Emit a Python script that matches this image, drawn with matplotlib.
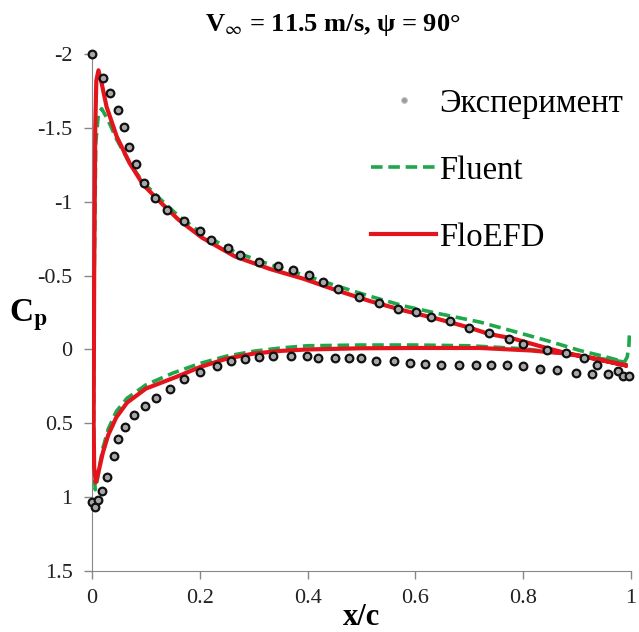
import matplotlib
matplotlib.use("Agg")
import matplotlib.pyplot as plt
import numpy as np

plt.rcParams["font.family"] = ["Liberation Serif", "DejaVu Serif"]
plt.rcParams["mathtext.fontset"] = "stix"
plt.rcParams["axes.unicode_minus"] = False

# Experiment, upper surface (x/c, Cp)
exp_up_x = [0.000, 0.020, 0.033, 0.049, 0.060, 0.069, 0.081, 0.096, 0.116, 0.139, 0.171,
            0.200, 0.221, 0.252, 0.275, 0.309, 0.345, 0.372, 0.403, 0.429, 0.457, 0.496,
            0.533, 0.568, 0.601, 0.629, 0.664, 0.700, 0.736, 0.774, 0.799, 0.844, 0.879,
            0.913, 0.937, 0.976, 0.986, 0.997]
exp_up_cp = [-2.00, -1.835, -1.733, -1.62, -1.507, -1.372, -1.254, -1.129, -1.028, -0.947, -0.871,
             -0.80, -0.744, -0.687, -0.637, -0.592, -0.563, -0.536, -0.502, -0.456, -0.412, -0.355,
             -0.314, -0.276, -0.253, -0.219, -0.192, -0.147, -0.111, -0.068, -0.039, 0.002, 0.022,
             0.056, 0.104, 0.149, 0.183, 0.183]

# Experiment, lower surface
exp_lo_x = [0.000, 0.006, 0.012, 0.018, 0.027, 0.040, 0.049, 0.061, 0.078, 0.098, 0.119,
            0.145, 0.171, 0.200, 0.231, 0.258, 0.284, 0.310, 0.335, 0.369, 0.398, 0.420,
            0.451, 0.477, 0.499, 0.527, 0.560, 0.590, 0.617, 0.648, 0.680, 0.712, 0.740,
            0.769, 0.799, 0.831, 0.863, 0.898, 0.928, 0.958]
exp_lo_cp = [1.035, 1.069, 1.019, 0.961, 0.861, 0.723, 0.605, 0.527, 0.447, 0.384, 0.327,
             0.266, 0.203, 0.154, 0.115, 0.081, 0.068, 0.051, 0.047, 0.047, 0.047, 0.056,
             0.056, 0.056, 0.056, 0.075, 0.081, 0.093, 0.097, 0.104, 0.104, 0.104, 0.102,
             0.102, 0.113, 0.131, 0.136, 0.158, 0.165, 0.165]

# Fluent: from trailing edge hook, along upper surface, around nose, along lower surface
fluent_x = [0.997, 0.996, 0.993, 0.988, 0.955, 0.905, 0.843, 0.781, 0.720, 0.700, 0.640,
            0.578, 0.516, 0.454, 0.392, 0.330, 0.265, 0.204, 0.160, 0.126, 0.095, 0.070,
            0.046, 0.030, 0.018, 0.012, 0.007, 0.004, 0.003, 0.004, 0.006,
            0.010, 0.015, 0.020, 0.030, 0.045, 0.065, 0.100, 0.150, 0.200, 0.250, 0.300,
            0.350, 0.400, 0.500, 0.600, 0.700, 0.800, 0.880, 0.940, 0.988]
fluent_cp = [-0.095, -0.02, 0.05, 0.085, 0.052, 0.007, -0.061, -0.124, -0.185, -0.20, -0.245,
             -0.295, -0.36, -0.43, -0.505, -0.575, -0.66, -0.785, -0.905, -1.02, -1.13, -1.26,
             -1.42, -1.55, -1.63, -1.60, -1.40, -0.50, 0.50, 0.85, 0.95,
             0.88, 0.77, 0.67, 0.54, 0.42, 0.33, 0.24, 0.16, 0.095, 0.045, 0.012,
             -0.01, -0.025, -0.03, -0.03, -0.025, -0.005, 0.03, 0.06, 0.085]

# FloEFD: from trailing edge along upper surface, around nose, along lower surface
floefd_x = [0.990, 0.935, 0.880, 0.843, 0.782, 0.735, 0.701, 0.640, 0.578, 0.516, 0.454,
            0.392, 0.330, 0.265, 0.204, 0.160, 0.126, 0.095, 0.070, 0.046, 0.027, 0.018,
            0.012, 0.008, 0.006, 0.004, 0.003, 0.004, 0.007,
            0.012, 0.020, 0.030, 0.045, 0.065, 0.100, 0.157, 0.200, 0.250, 0.300, 0.350,
            0.400, 0.500, 0.600, 0.720, 0.814, 0.880, 0.935, 0.990]
floefd_cp = [0.108, 0.063, 0.025, -0.010, -0.073, -0.106, -0.147, -0.208, -0.264, -0.327, -0.400,
             -0.479, -0.545, -0.630, -0.757, -0.880, -1.000, -1.115, -1.260, -1.440, -1.643, -1.800,
             -1.890, -1.820, -1.500, -0.500, 0.500, 0.800, 0.900,
             0.830, 0.700, 0.580, 0.460, 0.360, 0.265, 0.185, 0.120, 0.062, 0.028, 0.010,
             0.000, -0.008, -0.010, -0.010, 0.007, 0.028, 0.065, 0.108]

x_ticks = [0, 0.2, 0.4, 0.6, 0.8, 1]
y_ticks = [-2, -1.5, -1, -0.5, 0, 0.5, 1, 1.5]

fig = plt.figure(figsize=(6.39, 6.32), dpi=100)
ax = fig.add_axes([0.144, 0.0965, 0.8435, 0.818])

ax.plot(fluent_x, fluent_cp, color="#1EA84B", lw=2.6, ls=(0, (3.2, 1.6)), label="Fluent", zorder=2)
ax.plot(floefd_x, floefd_cp, color="#E3141B", lw=3.0, label="FloEFD", zorder=3)
ax.plot(exp_up_x + exp_lo_x, exp_up_cp + exp_lo_cp, ls="none", marker="o", ms=5.5,
        mfc="#A8A8A8", mec="#111111", mew=1.6, label="Эксперимент", zorder=4, clip_on=False)

ax.set_xlim(0, 1)
ax.set_ylim(1.5, -2)
ax.set_xticks(x_ticks)
ax.set_yticks(y_ticks)
ax.set_xticklabels(["{:g}".format(v) for v in x_ticks])
ax.set_yticklabels(["{:g}".format(v) for v in y_ticks])
ax.tick_params(labelsize=16, colors="#888888", labelcolor="#222222", length=6, width=1)
ax.tick_params(axis="y", pad=8)
ax.tick_params(axis="x", pad=7)
for s in ["top", "right"]:
    ax.spines[s].set_visible(False)
for s in ["left", "bottom"]:
    ax.spines[s].set_color("#888888")

ax.set_xlabel("x/c", fontsize=22, fontweight="bold")
ax.xaxis.set_label_coords(0.5, -0.062)
ax.set_ylabel(r"C$_\mathbf{p}$", fontsize=24, fontweight="bold", rotation=0)
ax.yaxis.set_label_coords(-0.118, 0.46)

fig.text(0.52, 0.96, r"V$_{\infty}$ = 11.5 m/s, ψ = 90°", fontsize=19, fontweight="bold",
         ha="center", va="center")

handles, labels = ax.get_legend_handles_labels()
order = [2, 0, 1]
leg = ax.legend([handles[i] for i in order], [labels[i] for i in order],
                loc="upper right", bbox_to_anchor=(1.01, 0.959), frameon=False,
                fontsize=23.5, labelspacing=1.12, handlelength=2.0, handletextpad=0.1,
                borderaxespad=0)
h0 = leg.legend_handles[0]
h0.set_markersize(4)
h0.set_markerfacecolor("#999999")
h0.set_markeredgecolor("#BBBBBB")
h0.set_markeredgewidth(0.8)

plt.savefig("out.png", dpi=100)
